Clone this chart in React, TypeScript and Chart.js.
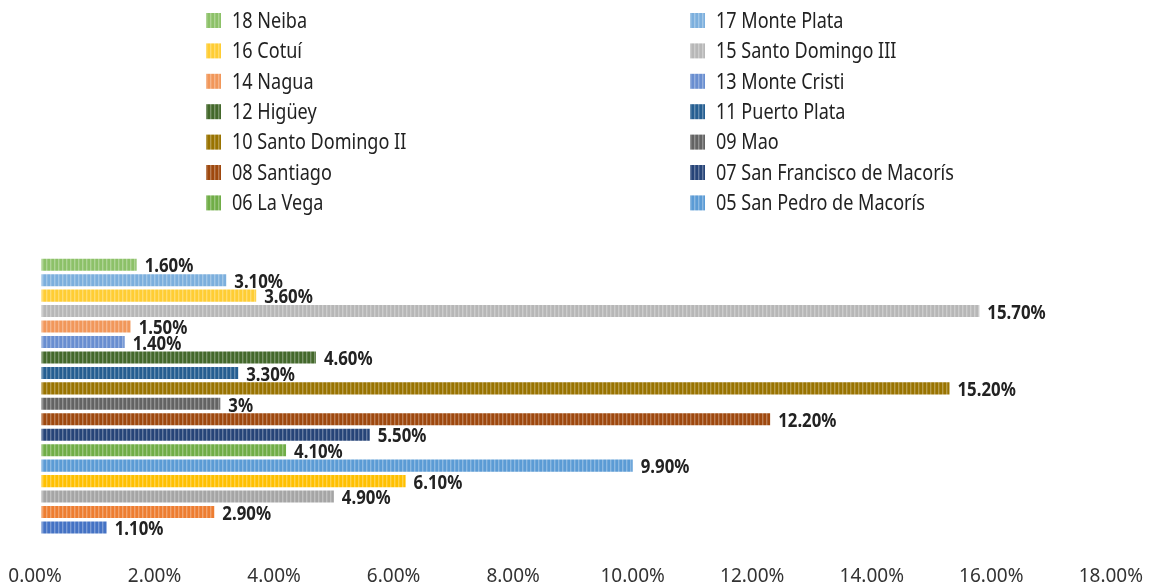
import { useEffect, useRef } from "react";
import { Chart, registerables } from "chart.js";

Chart.register(...registerables);

const regions = [
  "18 Neiba",
  "17 Monte Plata",
  "16 Cotuí",
  "15 Santo Domingo III",
  "14 Nagua",
  "13 Monte Cristi",
  "12 Higüey",
  "11 Puerto Plata",
  "10 Santo Domingo II",
  "09 Mao",
  "08 Santiago",
  "07 San Francisco de Macorís",
  "06 La Vega",
  "05 San Pedro de Macorís",
  "04 San Cristóbal",
  "03 Azua",
  "02 San Juan de la Maguana",
  "01 Barahona",
];
const values = [1.6, 3.1, 3.6, 15.7, 1.5, 1.4, 4.6, 3.3, 15.2, 3, 12.2, 5.5, 4.1, 9.9, 6.1, 4.9, 2.9, 1.1];
const colors = [
  "#8CC168", "#7CAFDD", "#FFCD33", "#B7B7B7", "#F1975A", "#698ED0",
  "#43682B", "#255E91", "#997300", "#636363", "#9E480E", "#264478",
  "#70AD47", "#5B9BD5", "#FFC000", "#A5A5A5", "#ED7D31", "#4472C4",
];
const categories = ["Regional"];
const xMin = 0;
const xMax = 18;
const xStep = 2;
const legendCount = 14;

const FONT = "'Noto Sans', 'Open Sans', 'DejaVu Sans', sans-serif";
const SQUEEZE = 0.82;

function mix(hex: string, white: number): string {
  const n = parseInt(hex.slice(1), 16);
  const r = (n >> 16) & 255, g = (n >> 8) & 255, b = n & 255;
  const f = (c: number) => Math.round(c + (255 - c) * white);
  return `rgb(${f(r)},${f(g)},${f(b)})`;
}

function makePattern(color: string): CanvasPattern | string {
  const c = document.createElement("canvas");
  c.width = 4;
  c.height = 4;
  const ctx = c.getContext("2d");
  if (!ctx) return color;
  ctx.fillStyle = color;
  ctx.fillRect(0, 0, 4, 4);
  ctx.fillStyle = mix(color, 0.3);
  ctx.fillRect(2, 0, 1, 4);
  ctx.fillStyle = mix(color, 0.12);
  ctx.fillRect(3, 0, 1, 4);
  const p = ctx.createPattern(c, "repeat");
  return p || color;
}

function fmt(v: number): string {
  return Number.isInteger(v) ? `${v}%` : `${v.toFixed(2)}%`;
}

function squeezedText(ctx: CanvasRenderingContext2D, text: string, x: number, y: number, sx: number) {
  ctx.save();
  ctx.translate(x, y);
  ctx.scale(sx, 1);
  ctx.fillText(text, 0, 0);
  ctx.restore();
}

const legendPlugin = {
  id: "twoColLegend",
  afterDraw(chart: any) {
    const ctx = chart.ctx;
    ctx.save();
    ctx.font = `22px ${FONT}`;
    ctx.textBaseline = "middle";
    const colX = [206, 690];
    const y0 = 20.5;
    const dy = 30.4;
    chart.data.datasets.slice(0, legendCount).forEach((ds: any, i: number) => {
      const col = i % 2;
      const row = Math.floor(i / 2);
      const x = colX[col];
      const y = y0 + row * dy;
      ctx.fillStyle = ds.backgroundColor;
      ctx.fillRect(x, y - 7.5, 15, 15);
      ctx.fillStyle = "#222222";
      squeezedText(ctx, ds.label, x + 26, y + 1, SQUEEZE);
    });
    ctx.restore();
  },
};

const valueLabelPlugin = {
  id: "valueLabels",
  afterDatasetsDraw(chart: any) {
    const ctx = chart.ctx;
    ctx.save();
    ctx.font = `bold 20px ${FONT}`;
    ctx.fillStyle = "#222222";
    ctx.textBaseline = "middle";
    chart.data.datasets.forEach((ds: any, i: number) => {
      const el = chart.getDatasetMeta(i).data[0];
      if (!el) return;
      squeezedText(ctx, fmt(ds.data[0]), el.x + 8, el.y + 2, 0.84);
    });
    ctx.restore();
  },
};

export default function App() {
  const ref = useRef<HTMLCanvasElement>(null);

  useEffect(() => {
    if (!ref.current) return;
    const datasets = regions.map((name, i) => ({
      label: name,
      data: [values[i]],
      backgroundColor: makePattern(colors[i]),
      borderWidth: 0,
      barPercentage: 0.78,
      categoryPercentage: 1,
    }));
    const chart = new Chart(ref.current, {
      type: "bar",
      data: { labels: categories, datasets },
      options: {
        indexAxis: "y",
        animation: false,
        responsive: false,
        layout: { autoPadding: false, padding: { top: 257, left: 41, right: 26, bottom: 0 } },
        plugins: {
          legend: { display: false },
          tooltip: { enabled: false },
        },
        scales: {
          x: {
            min: xMin,
            max: xMax,
            grid: {
              display: true,
              drawOnChartArea: false,
              drawTicks: true,
              tickLength: 30,
              color: "rgba(0,0,0,0)",
            },
            border: { display: false },
            ticks: {
              stepSize: xStep,
              padding: 0,
              labelOffset: -6,
              color: "#333333",
              font: { family: FONT, size: 19 },
              callback: (v: any) => `${Number(v).toFixed(2)}%`,
            },
          },
          y: { display: false },
        },
      },
      plugins: [legendPlugin, valueLabelPlugin],
    } as any);
    return () => chart.destroy();
  }, []);

  return (
    <div style={{ position: "fixed", left: 0, top: 0, width: 1149, height: 588, background: "#fff" }}>
      <canvas ref={ref} width={1149} height={588} style={{ display: "block" }} />
    </div>
  );
}
